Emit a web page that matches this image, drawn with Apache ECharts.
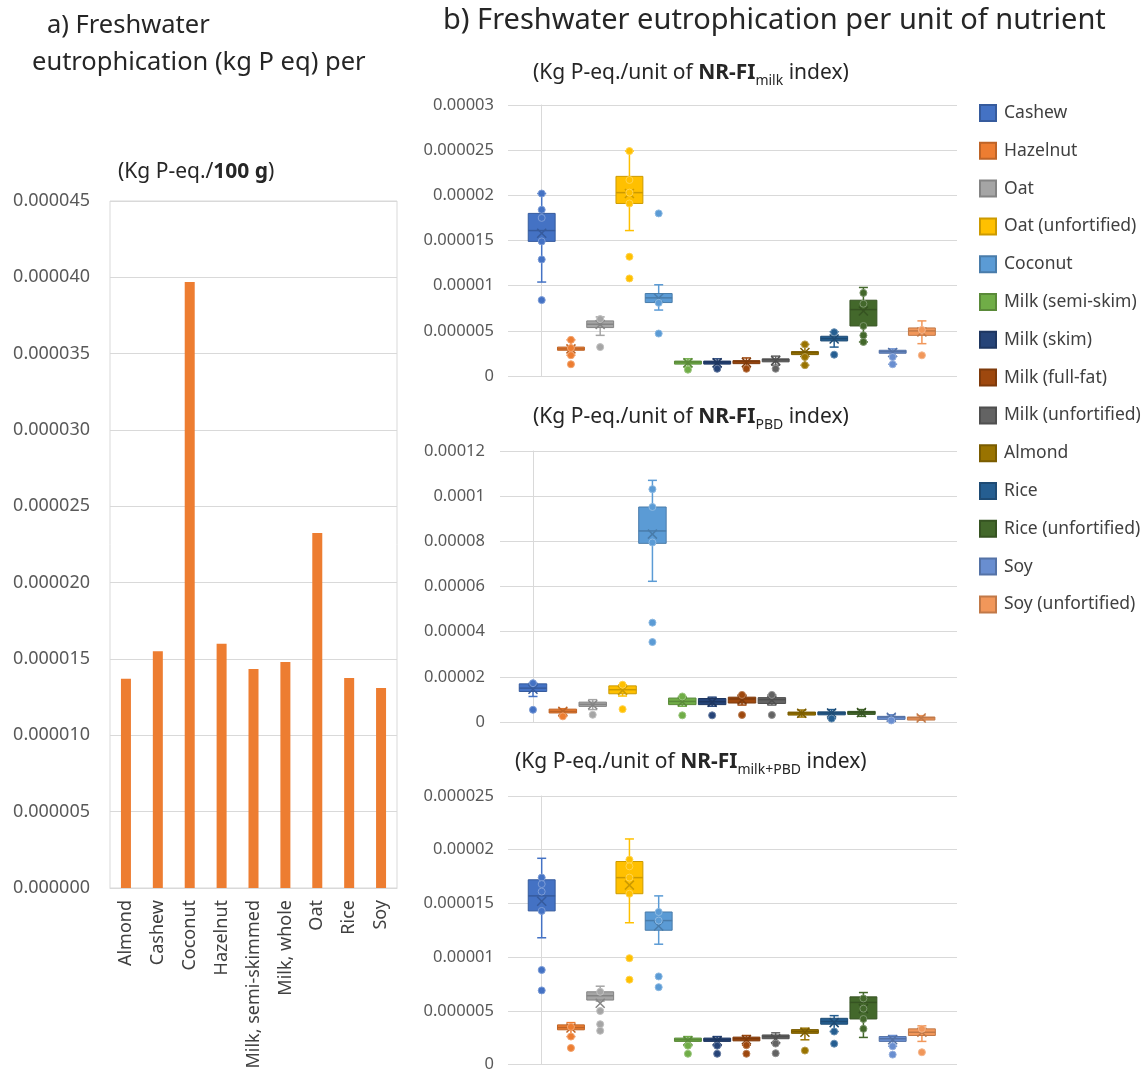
<!DOCTYPE html>
<html>
<head>
<meta charset="utf-8">
<script src="https://cdn.jsdelivr.net/npm/echarts/dist/echarts.min.js"></script>
<style>
  html, body { margin: 0; padding: 0; background: #ffffff; }
  #chart { width: 1146px; height: 1073px; }
</style>
</head>
<body>
<div id="chart"></div>
<script>
// ---- a) impact per 100 g ----
const barCategories = ['Almond', 'Cashew', 'Coconut', 'Hazelnut', 'Milk, semi-skimmed', 'Milk, whole', 'Oat', 'Rice', 'Soy'];
const barValues = [13.7e-6, 15.5e-6, 39.7e-6, 16.0e-6, 14.35e-6, 14.8e-6, 23.25e-6, 13.75e-6, 13.1e-6];
const barTicks = ['0.000000', '0.000005', '0.000010', '0.000015', '0.000020', '0.000025', '0.000030', '0.000035', '0.000040', '0.000045'];

// ---- b) drinks shown in the box plots ----
const drinkNames = ['Cashew', 'Hazelnut', 'Oat', 'Oat (unfortified)', 'Coconut', 'Milk (semi-skim)', 'Milk (skim)',
  'Milk (full-fat)', 'Milk (unfortified)', 'Almond', 'Rice', 'Rice (unfortified)', 'Soy', 'Soy (unfortified)'];

// box statistics per drink: [lower whisker, Q1, median, Q3, upper whisker, mean]
const milkBoxes = [
  [10.4e-6, 14.9e-6, 16.1e-6, 18.0e-6, 20.2e-6, 15.8e-6],
  [2.3e-6, 2.85e-6, 3.0e-6, 3.2e-6, 4.0e-6, 3.0e-6],
  [4.5e-6, 5.36e-6, 5.73e-6, 6.1e-6, 6.54e-6, 5.7e-6],
  [16.1e-6, 19.1e-6, 20.3e-6, 22.1e-6, 24.9e-6, 20.2e-6],
  [7.3e-6, 8.13e-6, 8.65e-6, 9.13e-6, 10.1e-6, 8.6e-6],
  [1.0e-6, 1.45e-6, 1.55e-6, 1.65e-6, 1.9e-6, 1.45e-6],
  [1.0e-6, 1.45e-6, 1.55e-6, 1.65e-6, 1.9e-6, 1.45e-6],
  [1.0e-6, 1.5e-6, 1.6e-6, 1.7e-6, 2.0e-6, 1.5e-6],
  [1.2e-6, 1.7e-6, 1.8e-6, 1.9e-6, 2.2e-6, 1.7e-6],
  [1.2e-6, 2.45e-6, 2.6e-6, 2.7e-6, 3.5e-6, 2.6e-6],
  [3.2e-6, 3.88e-6, 4.14e-6, 4.4e-6, 4.9e-6, 4.1e-6],
  [3.77e-6, 5.54e-6, 7.35e-6, 8.39e-6, 9.8e-6, 7.2e-6],
  [1.3e-6, 2.6e-6, 2.7e-6, 2.85e-6, 3.0e-6, 2.6e-6],
  [3.58e-6, 4.5e-6, 4.99e-6, 5.32e-6, 6.1e-6, 4.88e-6]
];
// individual observations (inner points and outliers) per drink
const milkPoints = [
  [20.2e-6, 18.4e-6, 17.5e-6, 14.9e-6, 12.9e-6, 8.4e-6],
  [4.0e-6, 3.1e-6, 2.3e-6, 1.3e-6],
  [6.3e-6, 3.2e-6],
  [24.9e-6, 21.7e-6, 20.3e-6, 19.1e-6, 13.2e-6, 10.8e-6],
  [18.0e-6, 8.1e-6, 4.7e-6],
  [0.7e-6],
  [0.8e-6],
  [0.8e-6],
  [0.8e-6],
  [3.5e-6, 2.1e-6, 1.2e-6],
  [4.85e-6, 2.36e-6],
  [9.2e-6, 8.0e-6, 5.54e-6, 4.5e-6, 3.77e-6],
  [2.1e-6, 1.3e-6],
  [5.1e-6, 2.29e-6]
];
const milkTicks = ['0', '0.000005', '0.00001', '0.000015', '0.00002', '0.000025', '0.00003'];

const pbdBoxes = [
  [11.3e-6, 13.5e-6, 15.0e-6, 16.9e-6, 17.2e-6, 14.5e-6],
  [2.5e-6, 4.0e-6, 4.7e-6, 5.7e-6, 5.9e-6, 4.7e-6],
  [5.5e-6, 6.9e-6, 7.8e-6, 8.8e-6, 9.9e-6, 7.6e-6],
  [11.5e-6, 12.5e-6, 14.3e-6, 16.0e-6, 16.5e-6, 14.0e-6],
  [62.3e-6, 79.1e-6, 84.6e-6, 95.2e-6, 107e-6, 83.2e-6],
  [7.0e-6, 7.7e-6, 9.1e-6, 10.6e-6, 11.3e-6, 9.0e-6],
  [7.0e-6, 7.7e-6, 9.0e-6, 10.4e-6, 11.0e-6, 8.8e-6],
  [7.5e-6, 8.4e-6, 10.2e-6, 11.0e-6, 12.0e-6, 9.8e-6],
  [7.5e-6, 8.2e-6, 9.9e-6, 10.8e-6, 12.0e-6, 9.6e-6],
  [2.2e-6, 3.5e-6, 4.0e-6, 4.4e-6, 5.3e-6, 3.9e-6],
  [1.5e-6, 3.5e-6, 4.0e-6, 4.5e-6, 5.5e-6, 4.0e-6],
  [2.5e-6, 3.8e-6, 4.3e-6, 4.7e-6, 5.5e-6, 4.2e-6],
  [0.7e-6, 1.8e-6, 2.2e-6, 2.5e-6, 3.2e-6, 2.1e-6],
  [0.8e-6, 1.6e-6, 1.9e-6, 2.2e-6, 2.8e-6, 1.8e-6]
];
const pbdPoints = [
  [17.2e-6, 5.4e-6],
  [2.5e-6],
  [3.2e-6],
  [16.5e-6, 5.7e-6],
  [103.1e-6, 95.2e-6, 79.5e-6, 44.0e-6, 35.4e-6],
  [11.3e-6, 2.95e-6],
  [2.95e-6],
  [12.0e-6, 3.1e-6],
  [12.0e-6, 3.1e-6],
  [],
  [1.5e-6],
  [],
  [0.7e-6],
  []
];
const pbdTicks = ['0', '0.00002', '0.00004', '0.00006', '0.00008', '0.0001', '0.00012'];

const bothBoxes = [
  [11.8e-6, 14.3e-6, 15.7e-6, 17.2e-6, 19.2e-6, 15.2e-6],
  [2.6e-6, 3.23e-6, 3.44e-6, 3.69e-6, 3.9e-6, 3.4e-6],
  [5.9e-6, 6.0e-6, 6.4e-6, 6.77e-6, 7.29e-6, 5.7e-6],
  [13.2e-6, 15.9e-6, 17.4e-6, 18.9e-6, 21.0e-6, 16.7e-6],
  [11.2e-6, 12.5e-6, 13.4e-6, 14.2e-6, 15.7e-6, 12.9e-6],
  [1.75e-6, 2.15e-6, 2.3e-6, 2.46e-6, 2.6e-6, 2.2e-6],
  [1.75e-6, 2.15e-6, 2.3e-6, 2.46e-6, 2.6e-6, 2.2e-6],
  [1.8e-6, 2.2e-6, 2.4e-6, 2.55e-6, 2.7e-6, 2.3e-6],
  [1.95e-6, 2.4e-6, 2.6e-6, 2.75e-6, 2.95e-6, 2.4e-6],
  [2.3e-6, 2.9e-6, 3.07e-6, 3.25e-6, 3.38e-6, 3.0e-6],
  [3.07e-6, 3.75e-6, 4.0e-6, 4.3e-6, 4.55e-6, 3.9e-6],
  [2.52e-6, 4.24e-6, 5.78e-6, 6.3e-6, 6.7e-6, 5.2e-6],
  [1.7e-6, 2.15e-6, 2.4e-6, 2.6e-6, 2.7e-6, 2.3e-6],
  [2.15e-6, 2.7e-6, 3.0e-6, 3.32e-6, 3.6e-6, 3.0e-6]
];
const bothPoints = [
  [17.4e-6, 16.8e-6, 16.1e-6, 14.3e-6, 8.8e-6, 6.9e-6],
  [3.5e-6, 2.6e-6, 1.54e-6],
  [6.77e-6, 4.98e-6, 3.75e-6, 3.14e-6],
  [19.07e-6, 18.45e-6, 17.4e-6, 15.9e-6, 9.9e-6, 7.9e-6],
  [14.2e-6, 13.4e-6, 8.2e-6, 7.2e-6],
  [1.75e-6, 1.0e-6],
  [1.75e-6, 1.0e-6],
  [1.8e-6, 1.0e-6],
  [1.95e-6, 1.05e-6],
  [1.3e-6],
  [3.07e-6, 1.94e-6],
  [6.15e-6, 5.2e-6, 4.24e-6, 3.32e-6],
  [1.7e-6, 0.92e-6],
  [3.32e-6, 1.14e-6]
];
const bothTicks = ['0', '0.000005', '0.00001', '0.000015', '0.00002', '0.000025'];

// ---- styling ----
const FONT = 'Noto Sans';
const palette = ['#4472C4', '#ED7D31', '#A5A5A5', '#FFC000', '#5B9BD5', '#70AD47', '#264478',
  '#9E480E', '#636363', '#997300', '#255E91', '#43682B', '#698ED0', '#F1975A'];
const barColor = '#ED7D31';
const gridColor = '#D9D9D9';
const axisText = '#595959';
const titleText = '#262626';

function mix(hex, target, t) {
  const n = parseInt(hex.slice(1), 16);
  const c = [(n >> 16) & 255, (n >> 8) & 255, n & 255];
  const o = c.map(v => Math.round(v + (target - v) * t));
  return 'rgb(' + o.join(',') + ')';
}
const darker = hex => mix(hex, 0, 0.2);
const lighter = hex => mix(hex, 255, 0.3);

function tickFormatter(labels, step) {
  return v => labels[Math.round(v / step)] ?? '';
}

// box, whiskers, median and mean cross of one drink
function renderBox(params, api, edge) {
  const x = api.value(0);
  const pLo = api.coord([x, api.value(1)]);
  const pQ1 = api.coord([x, api.value(2)]);
  const pMed = api.coord([x, api.value(3)]);
  const pQ3 = api.coord([x, api.value(4)]);
  const pHi = api.coord([x, api.value(5)]);
  const pMean = api.coord([x, api.value(6)]);
  const cx = pMed[0];
  const w = api.size([1, 0])[0] * 0.92;
  const base = api.visual('color');
  const cap = 4.5, m = 4.5;
  const lw = { stroke: base, lineWidth: 1.5 };
  return {
    type: 'group',
    children: [
      { type: 'line', shape: { x1: cx, y1: pHi[1], x2: cx, y2: pQ3[1] }, style: lw },
      { type: 'line', shape: { x1: cx, y1: pQ1[1], x2: cx, y2: pLo[1] }, style: lw },
      { type: 'line', shape: { x1: cx - cap, y1: pHi[1], x2: cx + cap, y2: pHi[1] }, style: lw },
      { type: 'line', shape: { x1: cx - cap, y1: pLo[1], x2: cx + cap, y2: pLo[1] }, style: lw },
      { type: 'rect', shape: { x: cx - w / 2, y: pQ3[1], width: w, height: Math.max(pQ1[1] - pQ3[1], 3) },
        style: { fill: base, stroke: edge, lineWidth: 1 } },
      { type: 'line', shape: { x1: cx - w / 2, y1: pMed[1], x2: cx + w / 2, y2: pMed[1] },
        style: { stroke: edge, lineWidth: 1.5 } },
      { type: 'line', shape: { x1: cx - m, y1: pMean[1] - m, x2: cx + m, y2: pMean[1] + m },
        style: { stroke: edge, lineWidth: 1.5 } },
      { type: 'line', shape: { x1: cx - m, y1: pMean[1] + m, x2: cx + m, y2: pMean[1] - m },
        style: { stroke: edge, lineWidth: 1.5 } }
    ]
  };
}

function boxPanel(axisIndex, boxes, points) {
  const list = [];
  boxes.forEach((b, i) => {
    const color = palette[i];
    const edge = darker(color);
    list.push({
      type: 'custom', name: drinkNames[i], xAxisIndex: axisIndex, yAxisIndex: axisIndex,
      itemStyle: { color: color, borderColor: edge, borderWidth: 1 },
      renderItem: (params, api) => renderBox(params, api, edge),
      encode: { x: 0, y: [1, 2, 3, 4, 5, 6] },
      data: [[i].concat(b)], z: 2, silent: true
    });
    list.push({
      type: 'scatter', name: drinkNames[i], xAxisIndex: axisIndex, yAxisIndex: axisIndex,
      symbol: 'circle', symbolSize: 7,
      itemStyle: { color: color, borderColor: lighter(color), borderWidth: 1, opacity: 1 },
      data: points[i].map(v => [i, v]), z: 3, silent: true
    });
  });
  return list;
}

function valueYAxis(gridIndex, max, step, labels, margin) {
  return {
    gridIndex: gridIndex, type: 'value', min: 0, max: max, interval: step,
    axisLine: { show: true, lineStyle: { color: gridColor } },
    axisTick: { show: false },
    splitLine: { lineStyle: { color: gridColor, width: 1 } },
    axisLabel: { formatter: tickFormatter(labels, step), color: axisText, fontSize: 16.5, fontFamily: FONT, margin: margin }
  };
}

const SUB = 21;
const richParts = {
  n: { fontSize: SUB, fontFamily: FONT, color: titleText, fontWeight: 'normal', lineHeight: 30 },
  b: { fontSize: SUB, fontFamily: FONT, color: titleText, fontWeight: 'bold', lineHeight: 30 },
  s: { fontSize: 14, fontFamily: FONT, color: titleText, fontWeight: 'normal', lineHeight: 15, verticalAlign: 'bottom' }
};

function subtitle(left, top, indexName, sub) {
  return {
    left: left, top: top, padding: 0,
    text: '{n|(Kg P-eq./unit of }{b|' + indexName + '}{s|' + sub + '}{n| index)}',
    textStyle: { fontWeight: 'normal', rich: richParts }
  };
}

const chart = echarts.init(document.getElementById('chart'), null, { renderer: 'canvas' });

chart.setOption({
  backgroundColor: '#ffffff',
  animation: false,
  title: [
    { left: 47, top: 13, padding: 0, text: 'a) Freshwater',
      textStyle: { fontSize: 25.5, fontWeight: 'normal', fontFamily: FONT, color: titleText } },
    { left: 32, top: 50, padding: 0, text: 'eutrophication (kg P eq) per',
      textStyle: { fontSize: 25.5, fontWeight: 'normal', fontFamily: FONT, color: titleText } },
    { left: 443, top: 6, padding: 0, text: 'b) Freshwater eutrophication per unit of nutrient',
      textStyle: { fontSize: 29, fontWeight: 'normal', fontFamily: FONT, color: titleText } },
    { left: 118, top: 157, padding: 0, text: '{n|(Kg P-eq./}{b|100 g}{n|)}',
      textStyle: { fontWeight: 'normal', rich: richParts } },
    subtitle(533, 58, 'NR-FI', 'milk'),
    subtitle(533, 402, 'NR-FI', 'PBD'),
    subtitle(515, 747, 'NR-FI', 'milk+PBD')
  ],
  legend: {
    orient: 'vertical', left: 974, top: 98, itemWidth: 16, itemHeight: 16, itemGap: 17.8,
    icon: 'rect', selectedMode: false, data: drinkNames,
    textStyle: { fontSize: 17.5, fontFamily: FONT, color: '#404040', lineHeight: 20, padding: [0, 0, 0, 3] }
  },
  grid: [
    { left: 110, top: 201, width: 287, height: 687, show: true, borderColor: gridColor, borderWidth: 1 },
    { left: 508, top: 105, width: 449, height: 271 },
    { left: 500, top: 451, width: 457, height: 271 },
    { left: 508, top: 796, width: 449, height: 271 }
  ],
  xAxis: [
    { gridIndex: 0, type: 'category', data: barCategories,
      axisLine: { lineStyle: { color: gridColor } }, axisTick: { show: false },
      axisLabel: { rotate: 90, fontSize: 18, fontFamily: FONT, color: '#404040', margin: 12, interval: 0 } },
    { gridIndex: 1, type: 'value', min: -1.152, max: 14.2, show: false },
    { gridIndex: 2, type: 'value', min: -1.105, max: 14.2, show: false },
    { gridIndex: 3, type: 'value', min: -1.152, max: 14.2, show: false }
  ],
  yAxis: [
    { gridIndex: 0, type: 'value', min: 0, max: 45e-6, interval: 5e-6,
      axisLine: { show: false }, axisTick: { show: false },
      splitLine: { lineStyle: { color: gridColor } },
      axisLabel: { formatter: tickFormatter(barTicks, 5e-6), color: axisText, fontSize: 18, fontFamily: FONT, margin: 20 } },
    valueYAxis(1, 30e-6, 5e-6, milkTicks, 14),
    valueYAxis(2, 120e-6, 20e-6, pbdTicks, 15),
    valueYAxis(3, 25e-6, 5e-6, bothTicks, 14)
  ],
  series: [
    { type: 'bar', xAxisIndex: 0, yAxisIndex: 0, data: barValues, barWidth: 10,
      itemStyle: { color: barColor }, silent: true }
  ].concat(boxPanel(1, milkBoxes, milkPoints), boxPanel(2, pbdBoxes, pbdPoints), boxPanel(3, bothBoxes, bothPoints))
});
</script>
</body>
</html>
